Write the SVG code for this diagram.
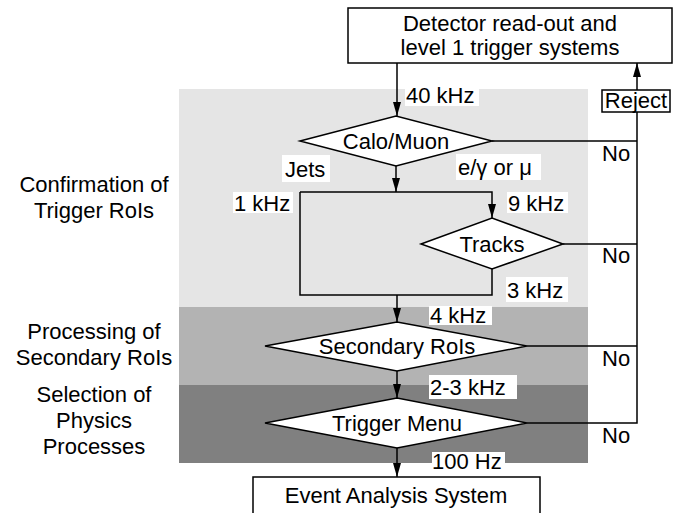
<svg xmlns="http://www.w3.org/2000/svg" width="676" height="513" viewBox="0 0 676 513">
<style>
text{font-family:"Liberation Sans",Arial,sans-serif;font-size:22px;fill:#000}
.m{text-anchor:middle}
.box{fill:#fff;stroke:#000;stroke-width:1.5}
.ln{fill:none;stroke:#000;stroke-width:1.5}
.bg{fill:#fff}
</style>
<defs>
<marker id="ah" viewBox="0 0 14 8" refX="14" refY="4" markerWidth="14" markerHeight="8" markerUnits="userSpaceOnUse" orient="auto">
<path d="M0,0 L14,4 L0,8 z" fill="#000"/>
</marker>
</defs>
<g id="bands">
<rect x="179" y="89" width="409" height="218" fill="#e5e5e5"/>
<rect x="179" y="307" width="409" height="78" fill="#b3b3b3"/>
<rect x="179" y="385" width="409" height="78" fill="#808080"/>
</g>
<g id="stage-labels">
<text class="m" x="94" y="192">Confirmation of</text>
<text class="m" x="94" y="218">Trigger RoIs</text>
<text class="m" x="94" y="339">Processing of</text>
<text class="m" x="94" y="365">Secondary RoIs</text>
<text class="m" x="94" y="402">Selection of</text>
<text class="m" x="94" y="428">Physics</text>
<text class="m" x="94" y="454">Processes</text>
</g>
<g id="connectors">
<path class="ln" d="M397,63 V116" marker-end="url(#ah)"/>
<path class="ln" d="M396,166 V192" marker-end="url(#ah)"/>
<path class="ln" d="M300,192 H492 V218" marker-end="url(#ah)"/>
<path class="ln" d="M300,192 V295 H492 V269"/>
<path class="ln" d="M397,295 V322" marker-end="url(#ah)"/>
<path class="ln" d="M397,371 V398" marker-end="url(#ah)"/>
<path class="ln" d="M397,448 V477" marker-end="url(#ah)"/>
<path class="ln" d="M492,141 H637"/>
<path class="ln" d="M563,244 H637"/>
<path class="ln" d="M527,346 H637"/>
<path class="ln" d="M527,423 H637 V112"/>
<path class="ln" d="M637,90 V63" marker-end="url(#ah)"/>
</g>
<g id="detector">
<rect class="box" x="348" y="8" width="324" height="55"/>
<text class="m" x="510" y="31">Detector read-out and</text>
<text class="m" x="510" y="55">level 1 trigger systems</text>
</g>
<g id="reject">
<rect class="box" x="602" y="90" width="68" height="22"/>
<text class="m" x="636" y="108">Reject</text>
</g>
<g id="calo">
<polygon class="box" points="300,141 396,116 492,141 396,166"/>
<text class="m" x="396" y="149">Calo/Muon</text>
</g>
<g id="tracks">
<polygon class="box" points="421,244 492,218 563,244 492,269"/>
<text class="m" x="492" y="252">Tracks</text>
</g>
<g id="secondary">
<polygon class="box" points="265,346 397,322 527,346 397,371"/>
<text class="m" x="397" y="354">Secondary RoIs</text>
</g>
<g id="menu">
<polygon class="box" points="265,423 397,398 527,423 397,448"/>
<text class="m" x="397" y="431">Trigger Menu</text>
</g>
<g id="event">
<rect class="box" x="253" y="477" width="287" height="40"/>
<text class="m" x="396" y="503">Event Analysis System</text>
</g>
<g id="labels">
<rect class="bg" x="405" y="86" width="74" height="20"/>
<text x="406" y="103">40 kHz</text>
<rect class="bg" x="282" y="155" width="48" height="27"/>
<text x="285" y="177">Jets</text>
<rect class="bg" x="456" y="154" width="85" height="26"/>
<text x="458" y="175">e/γ or μ</text>
<rect class="bg" x="233" y="192" width="60" height="21"/>
<text x="234" y="211">1 kHz</text>
<rect class="bg" x="507" y="192" width="61" height="21"/>
<text x="508" y="211">9 kHz</text>
<rect class="bg" x="506" y="277" width="62" height="25"/>
<text x="507" y="298">3 kHz</text>
<rect class="bg" x="429" y="306" width="63" height="19"/>
<text x="430" y="323">4 kHz</text>
<rect class="bg" x="429" y="375" width="88" height="24"/>
<text x="430" y="395">2-3 kHz</text>
<rect class="bg" x="432" y="452" width="73" height="20"/>
<text x="432" y="469">100 Hz</text>
<text x="602" y="161">No</text>
<text x="602" y="263">No</text>
<text x="602" y="366">No</text>
<text x="602" y="443">No</text>
</g>
</svg>
